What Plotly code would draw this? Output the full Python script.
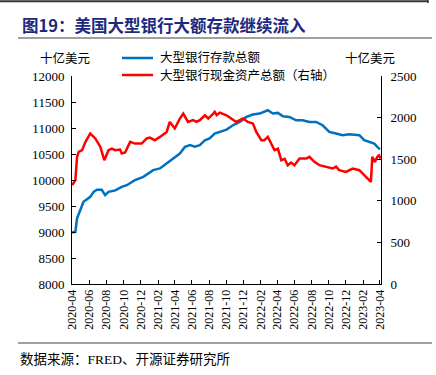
import plotly.graph_objects as go

# ---- data ----
deposit_dates = ["2020-04-01","2020-04-12","2020-04-18","2020-04-29","2020-05-11","2020-06-04","2020-06-16",
    "2020-06-28","2020-07-15","2020-07-27","2020-08-08","2020-09-01","2020-09-24","2020-10-12","2020-11-10",
    "2020-12-10","2021-01-14","2021-02-07","2021-03-03","2021-03-26","2021-04-19","2021-05-07","2021-05-25",
    "2021-06-11","2021-06-29","2021-07-17","2021-08-03","2021-08-21","2021-09-08","2021-10-02","2021-10-25",
    "2021-11-18","2021-12-12","2022-01-04","2022-01-28","2022-02-26","2022-03-16","2022-04-03","2022-04-21",
    "2022-05-14","2022-06-07","2022-06-30","2022-07-24","2022-08-17","2022-09-09","2022-10-03","2022-10-27",
    "2022-11-19","2022-12-13","2023-01-18","2023-02-04","2023-02-22","2023-03-12","2023-03-23","2023-04-01"]
deposit_values = [8990,9004,9262,9421,9580,9676,9772,
    9812,9812,9709,9772,9800,9868,9900,9997,
    10061,10190,10222,10318,10414,10510,10637,10670,
    10640,10670,10765,10800,10893,10925,10970,11053,
    11117,11213,11260,11278,11341,11278,11290,11226,
    11213,11149,11149,11117,11117,11053,10925,10893,
    10861,10880,10861,10765,10733,10700,10637,10590]

cash_dates = ["2020-04-01","2020-04-12","2020-04-18","2020-04-24","2020-05-06","2020-05-18","2020-06-04",
    "2020-06-22","2020-07-10","2020-07-24","2020-08-08","2020-08-20","2020-09-01","2020-09-18","2020-09-24",
    "2020-10-06","2020-10-24","2020-11-10","2020-12-04","2020-12-22","2021-01-02","2021-01-20","2021-02-07",
    "2021-03-03","2021-03-14","2021-04-01","2021-04-19","2021-05-01","2021-05-18","2021-06-05","2021-06-17",
    "2021-06-29","2021-07-17","2021-07-29","2021-08-16","2021-08-21","2021-08-28","2021-09-08","2021-10-02",
    "2021-10-19","2021-11-06","2021-11-30","2021-12-17","2022-01-04","2022-01-16","2022-02-03","2022-02-14",
    "2022-02-26","2022-03-10","2022-03-22","2022-04-03","2022-04-15","2022-04-27","2022-05-08","2022-05-20",
    "2022-06-01","2022-06-19","2022-07-13","2022-07-24","2022-08-11","2022-08-29","2022-09-21","2022-10-15",
    "2022-10-27","2022-11-07","2022-12-01","2022-12-25","2023-01-18","2023-02-04","2023-02-16","2023-02-28",
    "2023-03-05","2023-03-14","2023-03-23","2023-03-29","2023-04-04"]
cash_values = [1188,1248,1528,1588,1608,1708,1809,
    1749,1648,1488,1608,1628,1608,1615,1568,
    1580,1708,1688,1688,1749,1760,1728,1768,
    1828,1948,1869,1989,2049,1948,1969,1948,
    1969,2028,1989,2049,2068,2030,2060,2028,
    1989,1948,1989,1948,1929,1828,1728,1728,
    1768,1688,1608,1625,1488,1505,1428,1460,
    1428,1508,1508,1528,1468,1428,1408,1388,
    1410,1368,1348,1388,1368,1308,1268,1228,
    1528,1468,1528,1545,1508]

left_ticks = [8000, 8500, 9000, 9500, 10000, 10500, 11000, 11500, 12000]
right_ticks = [0, 500, 1000, 1500, 2000, 2500]

title_text = "图19：美国大型银行大额存款继续流入"
unit_text = "十亿美元"
series_names = ["大型银行存款总额", "大型银行现金资产总额（右轴）"]
source_text = "数据来源：FRED、开源证券研究所"

BLUE = "#0070C0"
RED = "#FF0000"
FONT = "Liberation Serif, Noto Sans CJK SC, serif"

W, H = 436, 375
L, R, T, B = 72, 381, 76, 284


def px(x):
    return (x - L) / (R - L)


def py(y):
    return (B - y) / (B - T)


fig = go.Figure()
fig.add_trace(go.Scatter(x=deposit_dates, y=deposit_values, mode="lines",
                         line=dict(color=BLUE, width=2.5), name=series_names[0], yaxis="y"))
fig.add_trace(go.Scatter(x=cash_dates, y=cash_values, mode="lines",
                         line=dict(color=RED, width=2.5), name=series_names[1], yaxis="y2"))

axis_common = dict(showgrid=False, zeroline=False, showline=True, linecolor="black", linewidth=1,
                   ticks="inside", ticklen=4, tickcolor="black", automargin=False,
                   tickfont=dict(family=FONT, size=13, color="black"))

fig.update_layout(
    width=W, height=H,
    margin=dict(l=L, r=W - R, t=T, b=H - B, autoexpand=False),
    paper_bgcolor="white", plot_bgcolor="white",
    showlegend=False,
    xaxis=dict(type="date", range=["2020-03-31", "2023-04-05"], tick0="2020-04-01", dtick="M2",
               tickformat="%Y-%m", tickangle=-90, showgrid=False, zeroline=False, showline=True,
               linecolor="black", linewidth=1, ticks="inside", ticklen=4, tickcolor="black",
               automargin=False, tickfont=dict(family=FONT, size=12, color="black")),
    yaxis=dict(range=[8000, 12000], tickvals=left_ticks, ticktext=[str(v) for v in left_ticks],
               ticklabelstandoff=4, **axis_common),
    yaxis2=dict(range=[0, 2500], tickvals=right_ticks, ticktext=[str(v) for v in right_ticks],
                overlaying="y", side="right", ticklabelstandoff=6, **axis_common),
)

# title and decorative rules
fig.add_shape(type="line", xref="paper", yref="paper", x0=px(0), x1=px(428), y0=py(1.2), y1=py(1.2),
              line=dict(color="#333333", width=2))
fig.add_shape(type="line", xref="paper", yref="paper", x0=px(428), x1=px(428), y0=py(0), y1=py(3),
              line=dict(color="#333333", width=1.5))
fig.add_annotation(text="<b>" + title_text + "</b>", x=px(20), y=py(25), xref="paper", yref="paper",
                   xanchor="left", yanchor="middle", showarrow=False,
                   font=dict(family="Noto Sans CJK SC, sans-serif", size=16.5, color="#1B2A7E"))
fig.add_shape(type="line", xref="paper", yref="paper", x0=px(18), x1=px(432), y0=py(38), y1=py(38),
              line=dict(color="#808080", width=1.5))
fig.add_shape(type="line", xref="paper", yref="paper", x0=px(18), x1=px(432), y0=py(343), y1=py(343),
              line=dict(color="#808080", width=1.5))
fig.add_annotation(text=source_text, x=px(18), y=py(359), xref="paper", yref="paper",
                   xanchor="left", yanchor="middle", showarrow=False,
                   font=dict(family=FONT, size=13.5, color="black"))

# unit labels
fig.add_annotation(text=unit_text, x=px(65), y=py(58), xref="paper", yref="paper",
                   xanchor="center", yanchor="middle", showarrow=False,
                   font=dict(family=FONT, size=12.5, color="black"))
fig.add_annotation(text=unit_text, x=px(370), y=py(58), xref="paper", yref="paper",
                   xanchor="center", yanchor="middle", showarrow=False,
                   font=dict(family=FONT, size=12.5, color="black"))

# manual legend
for i, (name, col) in enumerate(zip(series_names, [BLUE, RED])):
    yy = 58 + i * 17
    fig.add_shape(type="line", xref="paper", yref="paper", x0=px(122), x1=px(153), y0=py(yy), y1=py(yy),
                  line=dict(color=col, width=2.5))
    fig.add_annotation(text=name, x=px(158), y=py(yy), xref="paper", yref="paper",
                       xanchor="left", yanchor="middle", showarrow=False,
                       font=dict(family=FONT, size=12.5, color="black"))

fig.write_html("out.html", config={"displayModeBar": False},
               post_script="document.body.style.margin='0px';")
